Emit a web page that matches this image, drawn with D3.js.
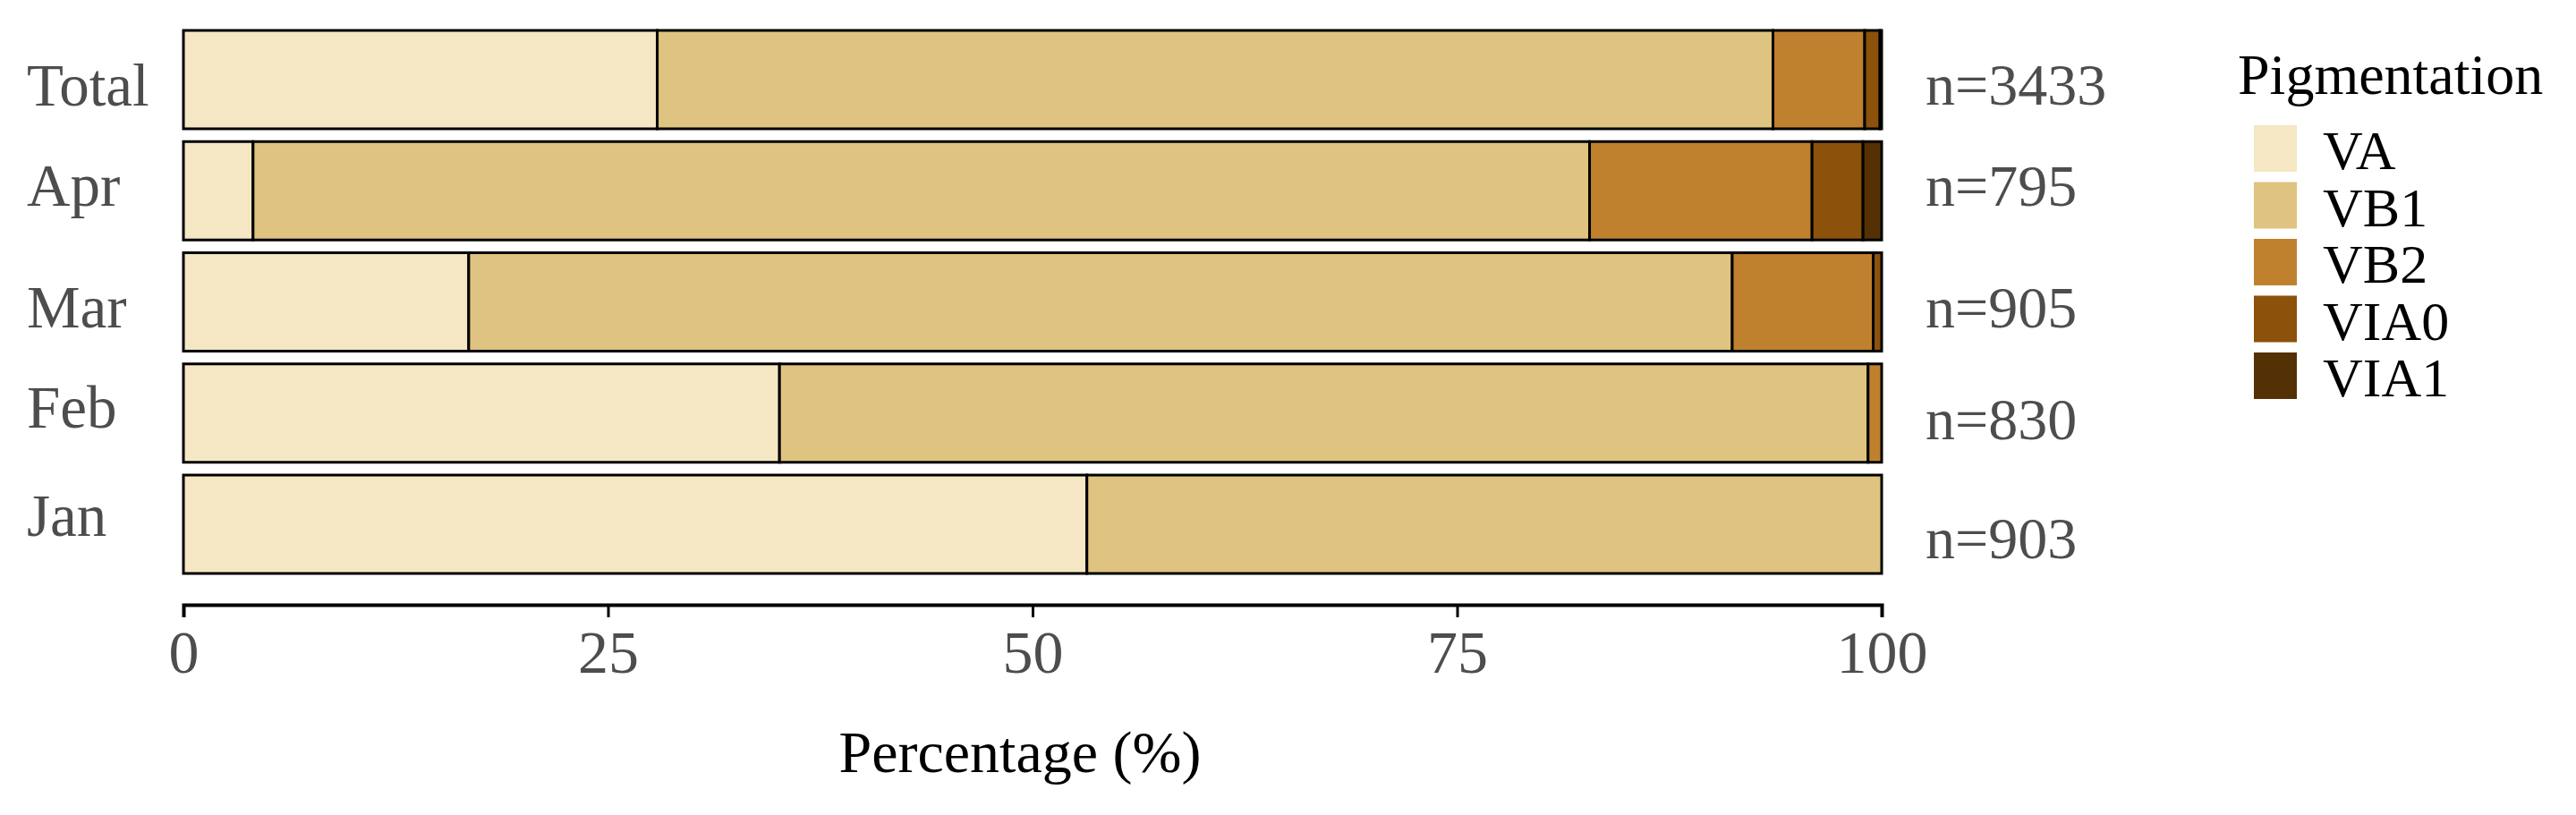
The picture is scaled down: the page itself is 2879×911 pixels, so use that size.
<!DOCTYPE html>
<html><head><meta charset="utf-8">
<script src="https://cdn.jsdelivr.net/npm/d3@7"></script>
<style>body{margin:0;background:#fff}svg{display:block}text{font-family:"Liberation Serif","DejaVu Serif",serif}</style>
</head><body><svg id="c" width="2879" height="911"></svg>
<script>
const categories = ["Total","Apr","Mar","Feb","Jan"];
const seriesNames = ["VA","VB1","VB2","VIA0","VIA1"];
const VA   = [27.9, 4.1, 16.8, 35.1, 53.2];
const VB1  = [65.7, 78.7, 74.4, 64.1, 46.8];
const VB2  = [5.4, 13.1, 8.3, 0.8, 0];
const VIA0 = [0.9, 3.0, 0.5, 0, 0];
const VIA1 = [0.1, 1.1, 0, 0, 0];
const nLabels = ["n=3433","n=795","n=905","n=830","n=903"];
const labelBaselines = [118,230,366,478,599];
const nBaselines = [117,230,366,491,624];
const colors = ["#f5e7c4","#dfc380","#bf812e","#8c510a","#543005"];
const ticks = [0,25,50,75,100];

const svg = d3.select("#c");
const x = d3.scaleLinear().domain([0,100]).range([205,2103]);
const y = d3.scaleBand().domain(categories).range([34,641]).paddingInner(0.115);
const rows = categories.map((c,i)=>({cat:c, VA:VA[i], VB1:VB1[i], VB2:VB2[i], VIA0:VIA0[i], VIA1:VIA1[i]}));
const stacked = d3.stack().keys(seriesNames)(rows);
svg.append("g").selectAll("g").data(stacked).join("g")
  .attr("fill",(d,i)=>colors[i])
  .selectAll("rect").data(d=>d.filter(p=>p[1]-p[0]>0)).join("rect")
  .attr("x",d=>x(d[0])).attr("width",d=>x(d[1])-x(d[0]))
  .attr("y",d=>y(d.data.cat)).attr("height",y.bandwidth())
  .attr("stroke","#000").attr("stroke-width",3);

categories.forEach((c,i)=>{
  svg.append("text").attr("x",30).attr("y",labelBaselines[i]).attr("font-size",67).attr("fill","#4d4d4d").text(c);
  svg.append("text").attr("x",2152).attr("y",nBaselines[i]).attr("font-size",66).attr("fill","#4d4d4d").text(nLabels[i]);
});

const ax = svg.append("g").attr("transform","translate(0,676)")
  .call(d3.axisBottom(x).tickValues(ticks).tickSize(14).tickPadding(14).tickFormat(d3.format("d")));
ax.select(".domain").attr("stroke","#000").attr("stroke-width",4);
ax.selectAll(".tick line").attr("stroke","#000").attr("stroke-width",3);
ax.selectAll(".tick text").attr("font-size",68).attr("fill","#4d4d4d").attr("font-family","Liberation Serif");

svg.append("text").attr("x",1140).attr("y",863).attr("text-anchor","middle").attr("font-size",66).attr("fill","#000").text("Percentage (%)");

svg.append("text").attr("x",2501).attr("y",105).attr("font-size",64).attr("fill","#000").text("Pigmentation");
seriesNames.forEach((s,i)=>{
  svg.append("rect").attr("x",2519).attr("y",140+i*63.5).attr("width",48).attr("height",52).attr("fill",colors[i]);
  svg.append("text").attr("x",2596).attr("y",189+i*63.5).attr("font-size",62).attr("font-family","Liberation Serif").attr("fill","#000").text(s);
});
</script></body></html>
